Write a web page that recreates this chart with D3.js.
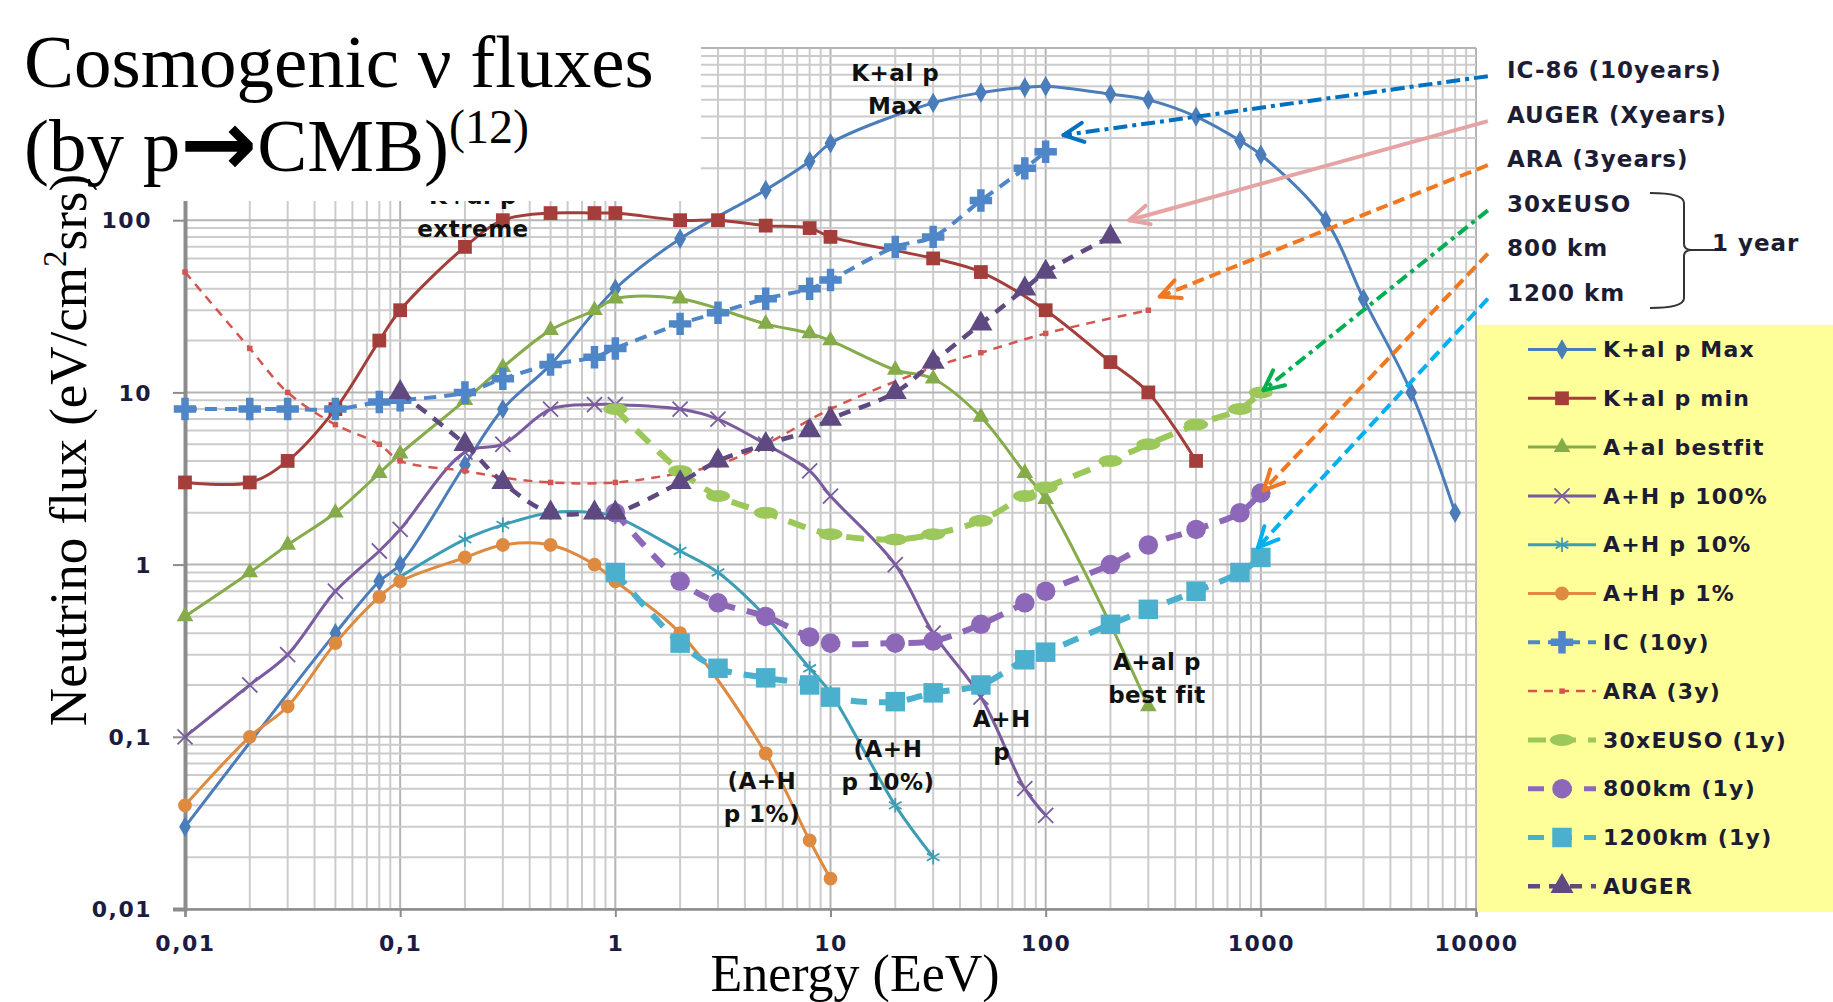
<!DOCTYPE html>
<html>
<head>
<meta charset="utf-8">
<script src="https://cdn.jsdelivr.net/npm/d3@7"></script>
<style>
body{margin:0;background:#fff}
svg text{font-family:"DejaVu Sans",sans-serif}
.serif{font-family:"Liberation Serif","Times New Roman",serif !important}
</style>
</head>
<body>
<svg id="chart" width="1833" height="1002"></svg>
<script>
// energies (EeV) and fluxes (eV/cm2 s sr)
var kalMaxE = [0.01,0.05,0.08,0.1,0.2,0.3,0.5,1,2,5,8,10,30,50,80,100,200,300,500,800,1000,2000,3000,5000,8000];
var kalMaxF = [0.03,0.4,0.8,1,3.8,8,14.5,40,78,150,220,280,480,550,590,600,540,500,400,290,240,100,35,10,2];
var kalMinE = [0.01,0.02,0.03,0.05,0.08,0.1,0.2,0.3,0.5,0.8,1,2,3,5,8,10,30,50,100,200,300,500];
var kalMinF = [3,3,4,8,20,30,70,100,110,110,110,100,100,93,90,80,60,50,30,15,10,4];
var aalBestE = [0.01,0.02,0.03,0.05,0.08,0.1,0.2,0.3,0.5,0.8,1,2,5,8,10,20,30,50,80,100,200,300];
var aalBestF = [0.5,0.9,1.3,2,3.4,4.4,9,14,23,30,35,35,25,22,20,13.5,12,7.2,3.4,2.4,0.45,0.15];
var ahp100E = [0.01,0.02,0.03,0.05,0.08,0.1,0.2,0.3,0.5,0.8,1,2,3,5,8,10,20,30,50,80,100];
var ahp100F = [0.1,0.2,0.3,0.7,1.2,1.6,4.5,5,8,8.5,8.5,8,7,5,3.5,2.5,1,0.4,0.17,0.05,0.035];
var ahp10E = [0.1,0.2,0.3,0.5,0.8,1,2,3,5,8,10,20,30];
var ahp10F = [0.85,1.4,1.7,2,2,1.9,1.2,0.9,0.5,0.25,0.18,0.04,0.02];
var ahp1E = [0.01,0.02,0.03,0.05,0.08,0.1,0.2,0.3,0.5,0.8,1,2,5,8,10];
var ahp1F = [0.04,0.1,0.15,0.35,0.65,0.8,1.1,1.3,1.3,1.0,0.8,0.4,0.08,0.025,0.015];
var icE = [0.01,0.02,0.03,0.05,0.08,0.1,0.2,0.3,0.5,0.8,1,2,3,5,8,10,20,30,50,80,100];
var icF = [8,8,8,8,8.8,9,10,12,14.5,16,18,25,29,35,40,45,70,80,130,200,250];
var araE = [0.01,0.02,0.03,0.05,0.08,0.1,0.2,0.3,0.5,1,2,3,5,10,30,50,100,300];
var araF = [50,18,10,6.5,5,4,3.5,3.2,3,3,3.4,3.8,5,8,14,17,22,30];
var eusoE = [1,2,3,5,10,20,30,50,80,100,200,300,500,800,1000];
var eusoF = [8,3.5,2.5,2,1.5,1.4,1.5,1.8,2.5,2.8,4,5,6.5,8,10];
var km800E = [1,2,3,5,8,10,20,30,50,80,100,200,300,500,800,1000];
var km800F = [2,0.8,0.6,0.5,0.38,0.35,0.35,0.36,0.45,0.6,0.7,1,1.3,1.6,2,2.6];
var km1200E = [1,2,3,5,8,10,20,30,50,80,100,200,300,500,800,1000];
var km1200F = [0.9,0.35,0.25,0.22,0.2,0.17,0.16,0.18,0.2,0.28,0.31,0.45,0.55,0.7,0.9,1.1];
var augerE = [0.1,0.2,0.3,0.5,0.8,1,2,3,5,8,10,20,30,50,80,100,200];
var augerF = [10,5,3,2,2,2,3,4,5,6,7,10,15,25,40,50,80];

var xTickVals = [0.01,0.1,1,10,100,1000,10000];
var xTickLabels = ["0,01","0,1","1","10","100","1000","10000"];
var yTickVals = [0.01,0.1,1,10,100];
var yTickLabels = ["0,01","0,1","1","10","100"];

// pointer notes on the right: label, arrow tip (E, F), tail flux
var noteLabels = ["IC-86 (10years)","AUGER (Xyears)","ARA (3years)","30xEUSO","800 km","1200 km"];
var noteColors = ["#0070C0","#E6A3A3","#F07820","#00B050","#F07820","#00B0F0"];
var noteDash = ["14,5,4,5",null,"12,6","12,5,4,5","12,6","12,6"];
var noteTipE = [121,244,339,1030,1030,970];
var noteTipF = [312,100,36,10.3,2.7,1.26];
var noteTailE = 11350;
var noteTailF = [686,376,209,114,64,35];

// labels written inside the plot
var inLabels = [
  {lines:["K+al p","Max"], e:20, f:640},
  {lines:["K+al p","extreme"], e:0.218, f:125},
  {lines:["A+al p","best fit"], e:329, f:0.244},
  {lines:["A+H","p"], e:62.5, f:0.114},
  {lines:["(A+H","p 10%)"], e:18.5, f:0.0763},
  {lines:["(A+H","p 1%)"], e:4.8, f:0.05}
];

var series = [
  {name:"K+al p Max", e:kalMaxE, f:kalMaxF, color:"#4A7DBA", w:3, dash:null, mk:"diamond"},
  {name:"K+al p min", e:kalMinE, f:kalMinF, color:"#A43E3B", w:3, dash:null, mk:"square"},
  {name:"A+al bestfit", e:aalBestE, f:aalBestF, color:"#86AB4A", w:3, dash:null, mk:"triangle"},
  {name:"A+H p 100%", e:ahp100E, f:ahp100F, color:"#7A5C9E", w:3, dash:null, mk:"times"},
  {name:"A+H p 10%", e:ahp10E, f:ahp10F, color:"#3C9DB5", w:3, dash:null, mk:"asterisk"},
  {name:"A+H p 1%", e:ahp1E, f:ahp1F, color:"#DE8A40", w:3, dash:null, mk:"circle"},
  {name:"IC (10y)", e:icE, f:icF, color:"#4F86C8", w:4, dash:"12,8", mk:"plus"},
  {name:"ARA (3y)", e:araE, f:araF, color:"#D45450", w:2.5, dash:"9,7", mk:"dot"},
  {name:"30xEUSO (1y)", e:eusoE, f:eusoF, color:"#9CC75A", w:6, dash:"18,12", mk:"ellipse"},
  {name:"800km (1y)", e:km800E, f:km800F, color:"#8D68B8", w:6, dash:"16,12", mk:"blob"},
  {name:"1200km (1y)", e:km1200E, f:km1200F, color:"#4AB0CD", w:6, dash:"16,12", mk:"bigsq"},
  {name:"AUGER", e:augerE, f:augerF, color:"#5E4A80", w:4.5, dash:"12,9", mk:"tri"}
];

var svg = d3.select("#chart");
svg.append("rect").attr("width",1833).attr("height",1002).attr("fill","#fff");

var x = d3.scaleLog().domain([0.01,10000]).range([185,1476]);
var y = d3.scaleLog().domain([0.01,1000]).range([909,48]);
var isMajor = function(d){ var l = Math.log10(d); return Math.abs(l - Math.round(l)) < 1e-6; };

// grid
var grid = svg.append("g");
grid.selectAll(".gx").data(x.ticks()).join("line")
  .attr("x1", d => x(d)).attr("x2", d => x(d)).attr("y1", y(1000)).attr("y2", y(0.01))
  .attr("stroke", d => isMajor(d) ? "#b4b4b4" : "#cccccc").attr("stroke-width", 2);
grid.selectAll(".gy").data(y.ticks()).join("line")
  .attr("y1", d => y(d)).attr("y2", d => y(d)).attr("x1", x(0.01)).attr("x2", x(10000))
  .attr("stroke", d => isMajor(d) ? "#b4b4b4" : "#cccccc").attr("stroke-width", 2);

// axes
var xAxis = svg.append("g").attr("transform","translate(0,909)")
  .call(d3.axisBottom(x).tickValues(xTickVals).tickFormat((d,i) => xTickLabels[i]).tickSize(8));
var yAxis = svg.append("g").attr("transform","translate(185,0)")
  .call(d3.axisLeft(y).tickValues(yTickVals).tickFormat((d,i) => yTickLabels[i]).tickSize(12));
xAxis.select(".domain").attr("stroke","#8c8c8c").attr("stroke-width",2.5);
yAxis.select(".domain").attr("stroke","#8c8c8c").attr("stroke-width",4);
svg.selectAll(".tick line").attr("stroke","#8c8c8c").attr("stroke-width",2);
svg.selectAll(".tick text").attr("font-family","DejaVu Sans").attr("font-weight","bold")
  .attr("font-size",22).attr("fill","#1c1c40").attr("letter-spacing",1.5);
xAxis.selectAll(".tick text").attr("y",34).attr("dy","0.35em");
yAxis.selectAll(".tick text").attr("x",-33).attr("dy","0.35em");

// series
var line = d3.line().x(d => x(d[0])).y(d => y(d[1])).curve(d3.curveCatmullRom.alpha(0.5));
var symTable = {
  diamond:[d3.symbolDiamond,120], square:[d3.symbolSquare,190], triangle:[d3.symbolTriangle,120],
  circle:[d3.symbolCircle,150], plus:[d3.symbolCross,280], dot:[d3.symbolSquare,30],
  blob:[d3.symbolCircle,300], bigsq:[d3.symbolSquare,380], tri:[d3.symbolTriangle,230],
  times:[d3.symbolTimes,150], asterisk:[d3.symbolAsterisk,150]
};
function marker(g, mk, color) {
  if (mk === "ellipse") { g.append("ellipse").attr("rx",12).attr("ry",6).attr("fill",color); return; }
  var p = g.append("path").attr("d", d3.symbol(symTable[mk][0], symTable[mk][1])());
  if (mk === "times" || mk === "asterisk") p.attr("fill","none").attr("stroke",color).attr("stroke-width",1.8);
  else p.attr("fill",color);
}

series.forEach(function(s){
  var pts = s.e.map((e,i) => [e, s.f[i]]);
  var g = svg.append("g");
  g.append("path").datum(pts).attr("d", line).attr("fill","none")
    .attr("stroke", s.color).attr("stroke-width", s.w)
    .attr("stroke-dasharray", s.dash);
  pts.forEach(function(p){
    marker(g.append("g").attr("transform","translate(" + x(p[0]) + "," + y(p[1]) + ")"), s.mk, s.color);
  });
});

// in-plot labels
inLabels.forEach(function(l){
  var t = svg.append("text").attr("x", x(l.e)).attr("y", y(l.f)).attr("text-anchor","middle")
    .attr("font-weight","bold").attr("font-size",23).attr("letter-spacing",0.5).attr("fill","#111");
  l.lines.forEach(function(s,i){
    t.append("tspan").attr("x", x(l.e)).attr("dy", i ? 33 : 0).text(s);
  });
});

// pointer arrows
noteLabels.forEach(function(n,i){
  var x1 = x(noteTailE), y1 = y(noteTailF[i]), x2 = x(noteTipE[i]), y2 = y(noteTipF[i]);
  svg.append("line").attr("x1",x1).attr("y1",y1).attr("x2",x2).attr("y2",y2)
    .attr("stroke",noteColors[i]).attr("stroke-width",4).attr("stroke-dasharray",noteDash[i]);
  var a = Math.atan2(y1 - y2, x1 - x2), L = 22;
  [0.45,-0.45].forEach(function(da){
    svg.append("line").attr("x1",x2).attr("y1",y2)
      .attr("x2", x2 + L*Math.cos(a+da)).attr("y2", y2 + L*Math.sin(a+da))
      .attr("stroke",noteColors[i]).attr("stroke-width",4).attr("stroke-linecap","round");
  });
  svg.append("text").attr("x",1507).attr("y", y1 - 6).attr("dy","0.35em")
    .attr("font-weight","bold").attr("font-size",23).attr("letter-spacing",1)
    .attr("fill","#1c1c33").text(n);
});

// bracket for the 1 year group
svg.append("path").attr("d","M1650,193 Q1684,193 1684,203 L1684,244 Q1684,250 1692,250 L1716,250 M1692,250 Q1684,250 1684,256 L1684,298 Q1684,308 1650,308")
  .attr("fill","none").attr("stroke","#333").attr("stroke-width",2);
svg.append("text").attr("x",1712).attr("y",243).attr("dy","0.35em").attr("font-weight","bold")
  .attr("font-size",23).attr("letter-spacing",1).attr("fill","#1c1c33").text("1 year");

// title box over the upper-left of the plot
svg.append("rect").attr("x",0).attr("y",0).attr("width",701).attr("height",201).attr("fill","#fff");
var t1 = svg.append("text").attr("class","serif").attr("x",24).attr("y",87).attr("font-size",75).attr("fill","#000");
t1.text("Cosmogenic \u03bd fluxes");
var t2 = svg.append("text").attr("class","serif").attr("x",24).attr("y",171).attr("font-size",75).attr("fill","#000");
t2.append("tspan").text("(by p");
t2.append("tspan").attr("font-family","DejaVu Sans").attr("font-weight","bold").attr("font-size",92).attr("dy",4).text("\u2192");
t2.append("tspan").attr("dy",-4).text("CMB)");
t2.append("tspan").attr("font-size",48).attr("dy",-28).text("(12)");

// axis titles
var yt = svg.append("text").attr("class","serif").attr("transform","translate(86,450) rotate(-90)")
  .attr("text-anchor","middle").attr("font-size",53).attr("fill","#000");
yt.append("tspan").text("Neutrino flux (eV/cm");
yt.append("tspan").attr("font-size",33).attr("dy",-20).text("2");
yt.append("tspan").attr("dy",20).text("srs)");
svg.append("text").attr("class","serif").attr("x",855).attr("y",991).attr("text-anchor","middle")
  .attr("font-size",52).attr("fill","#000").text("Energy (EeV)");

// legend
svg.append("rect").attr("x",1477).attr("y",325).attr("width",356).attr("height",587).attr("fill","#FFFF99");
series.forEach(function(s,i){
  var ly = 349.5 + i*48.8;
  svg.append("line").attr("x1",1528).attr("x2",1596).attr("y1",ly).attr("y2",ly)
    .attr("stroke",s.color).attr("stroke-width",Math.min(s.w,5)).attr("stroke-dasharray",s.dash);
  marker(svg.append("g").attr("transform","translate(1562," + ly + ")"), s.mk, s.color);
  svg.append("text").attr("x",1603).attr("y",ly).attr("dy","0.35em").attr("font-weight","bold")
    .attr("font-size",22).attr("letter-spacing",1.2).attr("fill","#1c1c33").text(s.name);
});
</script>
</body>
</html>
